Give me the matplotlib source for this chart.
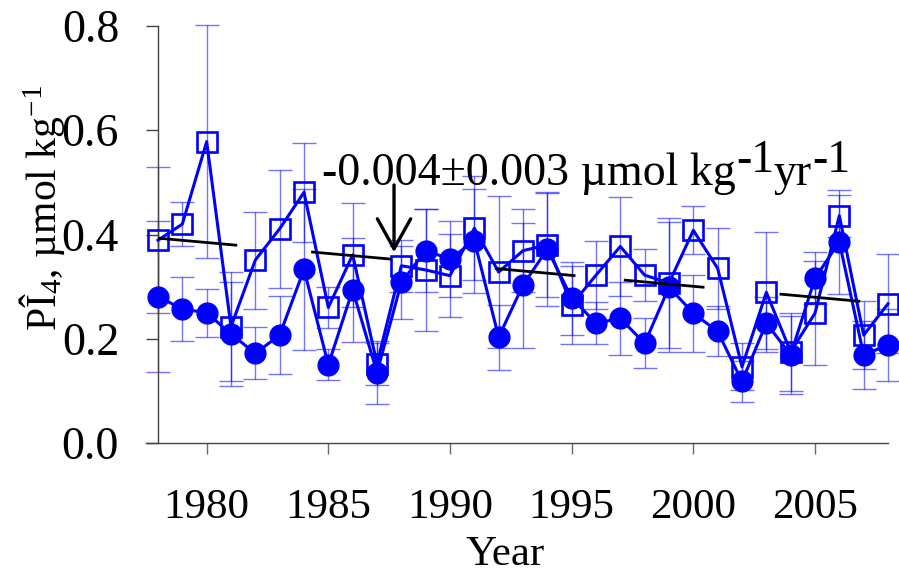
import matplotlib
matplotlib.use("Agg")
import matplotlib.pyplot as plt


# Annual series (1978-2008) with one-sigma error bars
years = list(range(1978, 2009))

squares = [0.389, 0.420, 0.578, 0.223, 0.351, 0.411, 0.481, 0.260, 0.361, 0.152,
           0.340, 0.332, 0.321, 0.412, 0.328, 0.369, 0.380, 0.265, 0.322, 0.377,
           0.322, 0.307, 0.408, 0.335, 0.146, 0.289, 0.175, 0.249, 0.436, 0.207,
           0.267]
square_err = [0.140, 0.042, 0.224, 0.105, 0.093, 0.113, 0.095, 0.040, 0.100, 0.040,
              0.050, 0.117, 0.080, 0.100, 0.145, 0.080, 0.100, 0.075, 0.065, 0.095,
              0.050, 0.125, 0.046, 0.077, 0.045, 0.115, 0.075, 0.100, 0.040, 0.065,
              0.095]

circles = [0.281, 0.257, 0.250, 0.209, 0.172, 0.207, 0.333, 0.150, 0.294, 0.135,
           0.308, 0.369, 0.353, 0.388, 0.203, 0.303, 0.372, 0.278, 0.230, 0.239,
           0.191, 0.299, 0.249, 0.214, 0.118, 0.230, 0.169, 0.316, 0.386, 0.169,
           0.188]
circle_err = [0.144, 0.062, 0.046, 0.100, 0.050, 0.075, 0.155, 0.030, 0.100, 0.060,
              0.070, 0.080, 0.072, 0.100, 0.062, 0.120, 0.110, 0.070, 0.040, 0.070,
              0.048, 0.125, 0.074, 0.048, 0.040, 0.050, 0.075, 0.050, 0.100, 0.065,
              0.070]

# Linear trend, drawn as a broken line
trend_start = 1978
trend_intercept = 0.393
trend_slope = -0.0042
trend_segments = [(1978.0, 1981.2), (1984.35, 1987.55), (1991.9, 1995.1),
                  (1997.2, 2000.4), (2003.6, 2006.8)]

x_ticks = [1980, 1985, 1990, 1995, 2000, 2005]
y_ticks = [0.0, 0.2, 0.4, 0.6, 0.8]

BLUE = "#0000ff"
SERIF = "Liberation Serif"

plt.rcParams["font.family"] = SERIF
plt.rcParams["mathtext.fontset"] = "custom"
plt.rcParams["mathtext.rm"] = SERIF
plt.rcParams["mathtext.it"] = SERIF + ":italic"

fig = plt.figure(figsize=(8.99, 5.76), dpi=100)
ax = fig.add_axes([158 / 899, 1 - 443 / 576, 730 / 899, 417 / 576])

# error bars (light) under the lines
ax.errorbar(years, squares, yerr=square_err, fmt="none", ecolor=BLUE,
            elinewidth=1.0, capsize=8.5, capthick=1.0, alpha=0.55, zorder=1,
            clip_on=False)
ax.errorbar(years, circles, yerr=circle_err, fmt="none", ecolor=BLUE,
            elinewidth=1.0, capsize=8.5, capthick=1.0, alpha=0.55, zorder=1,
            clip_on=False)

ax.plot(years, squares, color=BLUE, lw=2.2, marker="s", markersize=14.5,
        markerfacecolor="none", markeredgecolor=BLUE, markeredgewidth=1.9,
        zorder=3, clip_on=False)
ax.plot(years, circles, color=BLUE, lw=2.2, marker="o", markersize=15,
        markerfacecolor=BLUE, markeredgecolor=BLUE, zorder=4, clip_on=False)

for x0, x1 in trend_segments:
    y0 = trend_intercept + trend_slope * (x0 - trend_start)
    y1 = trend_intercept + trend_slope * (x1 - trend_start)
    ax.plot([x0, x1], [y0, y1], color="black", lw=2.0, zorder=5)

ax.set_xlim(1978, 2008)
ax.set_ylim(0, 0.8)
ax.set_xticks(x_ticks)
ax.set_xticklabels([str(t) for t in x_ticks])
ax.set_yticks(y_ticks)
ax.set_yticklabels([f"{t:.1f}" for t in y_ticks])

for side in ["top", "right"]:
    ax.spines[side].set_visible(False)
for side in ["left", "bottom"]:
    ax.spines[side].set_color("#444444")
    ax.spines[side].set_linewidth(1.0)
# x axis line runs out under the y ticks
ax.spines["bottom"].set_bounds(1977.5, 2008)

ax.tick_params(axis="y", direction="out", length=9, width=1.0,
               color="#444444", labelsize=33, pad=19)
ax.tick_params(axis="x", direction="out", length=8, width=1.0,
               color="#666666", labelsize=31, pad=25)

fig.text(505 / 899, 1 - 555 / 576, "Year", fontsize=31,
         ha="center", va="center")
fig.text(42 / 899, 1 - 208 / 576, "PÎ$_{4}$, µmol kg$^{-1}$", fontsize=30,
         rotation=90, ha="center", va="center")

# trend annotation with arrow
ax.annotate("", xy=(1987.7, 0.366), xytext=(1987.7, 0.495),
            arrowprops=dict(arrowstyle="->,head_length=0.9,head_width=0.5",
                            mutation_scale=24, lw=2.4, color="black",
                            shrinkA=0, shrinkB=0),
            zorder=6)

# text pieces so the exponents stay full size
parts = [("-0.004±0.003 µmol kg", 0), ("-1", 13), ("yr", 0), ("-1", 13)]
fig.canvas.draw()
renderer = fig.canvas.get_renderer()
x_px = 322
base_px = 576 - 185
for txt, rise in parts:
    t = fig.text(x_px / 899, (base_px + rise) / 576, txt, fontsize=33,
                 ha="left", va="baseline", zorder=7)
    bb = t.get_window_extent(renderer=renderer)
    x_px = bb.x1

fig.savefig("out.png", dpi=100)
